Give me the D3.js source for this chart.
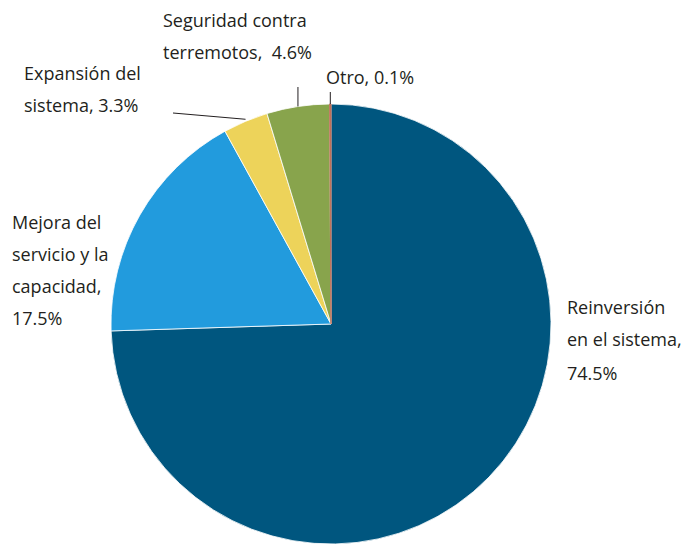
<!DOCTYPE html>
<html>
<head>
<meta charset="utf-8">
<script src="https://cdn.jsdelivr.net/npm/d3@7"></script>
<style>
  body { margin: 0; background: #fff; }
  svg text { font-family: "Open Sans", sans-serif; fill: #231f20; white-space: pre; }
</style>
</head>
<body>
<div id="chart"></div>
<script>
// Data
var categories = ["Reinversión en el sistema", "Mejora del servicio y la capacidad", "Expansión del sistema", "Seguridad contra terremotos", "Otro"];
var values = [74.5, 17.5, 3.3, 4.6, 0.1];
var colors = ["#00567f", "#229bdd", "#edd35a", "#88a44c", "#c0705a"];
var labelLines = [
    ["Reinversión", "en el sistema,", "74.5%"],
    ["Mejora del", "servicio y la", "capacidad,", "17.5%"],
    ["Expansión del", "sistema, 3.3%"],
    ["Seguridad contra", "terremotos,  4.6%"],
    ["Otro, 0.1%"]
];

var width = 698, height = 545;
var cx = 331, cy = 324, radius = 220;

var svg = d3.select("#chart").append("svg")
    .attr("width", width)
    .attr("height", height);

var data = categories.map(function(c, i) {
    return { name: c, value: values[i], color: colors[i], lines: labelLines[i] };
});

var pie = d3.pie()
    .sort(null)
    .value(d => d.value);

var arc = d3.arc()
    .innerRadius(0)
    .outerRadius(radius);

var g = svg.append("g")
    .attr("transform", `translate(${cx},${cy})`);

var arcs = pie(data);

g.selectAll("path")
    .data(arcs)
    .join("path")
    .attr("d", arc)
    .attr("fill", d => d.data.color)
    .attr("stroke", d => d.data.value < 1 ? d.data.color : "#ffffff")
    .attr("stroke-width", d => d.data.value < 1 ? 1 : 0.8);

// label placement (left x, first baseline)
var labelPos = [
    { x: 567, y: 314 },
    { x: 12, y: 229 },
    { x: 24, y: 80 },
    { x: 163, y: 27 },
    { x: 326, y: 84 }
];
var lineGap = 32;

svg.selectAll("text.lbl")
    .data(data)
    .join("text")
    .attr("class", "lbl")
    .attr("font-size", "18px")
    .each(function(d, i) {
        var t = d3.select(this);
        d.lines.forEach(function(line, j) {
            t.append("tspan")
                .attr("x", labelPos[i].x)
                .attr("y", labelPos[i].y + j * lineGap + (i === 0 && j === 2 ? 2 : 0))
                .text(line);
        });
    });

// leader lines: from label to arc edge
function edgePoint(d) {
    var a = (d.startAngle + d.endAngle) / 2;
    return [cx + Math.sin(a) * radius, cy - Math.cos(a) * radius];
}
var pExp = edgePoint(arcs[2]);
var pSeg = edgePoint(arcs[3]);
var pOtro = edgePoint(arcs[4]);

var leaders = [
    [[173, 113], [pExp[0], pExp[1] - 2]],
    [[pSeg[0], 87], [pSeg[0], pSeg[1]]],
    [[pOtro[0], 92], [pOtro[0], pOtro[1]]]
];

svg.selectAll("line.leader")
    .data(leaders)
    .join("line")
    .attr("class", "leader")
    .attr("x1", d => d[0][0])
    .attr("y1", d => d[0][1])
    .attr("x2", d => d[1][0])
    .attr("y2", d => d[1][1])
    .attr("stroke", "#231f20")
    .attr("stroke-width", 1);
</script>
</body>
</html>
